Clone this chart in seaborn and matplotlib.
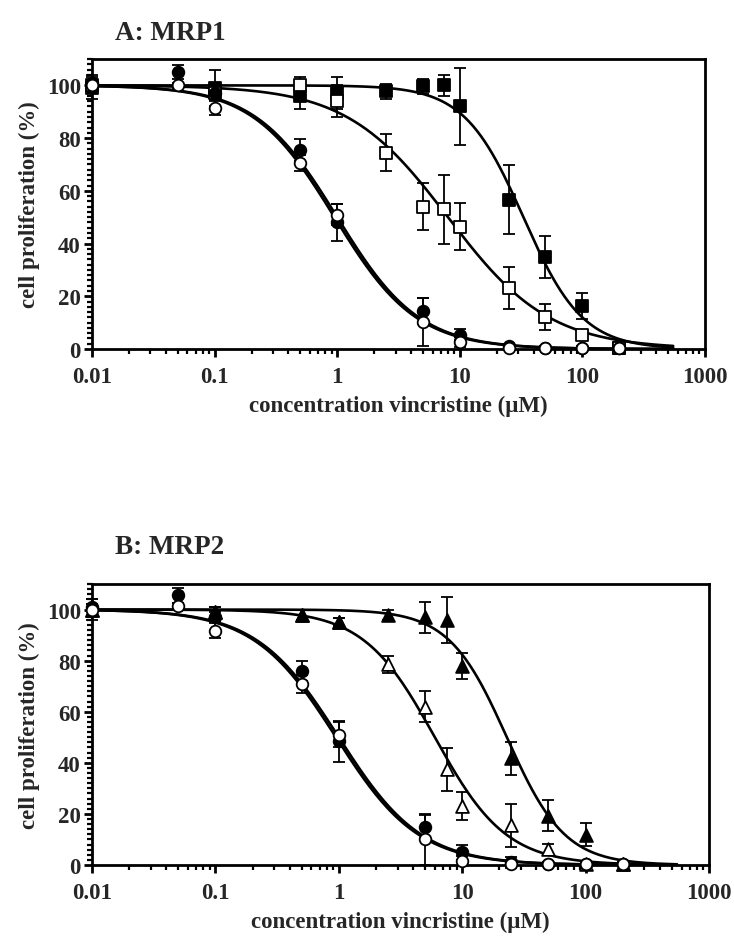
import numpy as np
import pandas as pd
import matplotlib
matplotlib.use("Agg")
import matplotlib.pyplot as plt
import seaborn as sns
from matplotlib.ticker import MultipleLocator, LogLocator, NullFormatter

sns.set_style("ticks")
plt.rcParams['font.family'] = ['Liberation Serif', 'DejaVu Serif']
plt.rcParams['font.weight'] = 'bold'
plt.rcParams['mathtext.default'] = 'regular'

# ---------------- data ----------------
conc_circ = [0.01, 0.05, 0.1, 0.5, 1, 5, 10, 25, 50, 100, 200]
conc_sq = [0.01, 0.1, 0.5, 1, 2.5, 5, 7.5, 10, 25, 50, 100, 200]
conc_tri = [0.01, 0.1, 0.5, 1, 2.5, 5, 7.5, 10, 25, 50, 100, 200]

# Panel A: MRP1
a_fc_y = [101, 105, 97, 75.5, 48, 14.5, 5.5, 1, 0.5, 0.5, 0.5]
a_fc_e = [3, 2.7, 2, 4, 7, 5, 2, 1, 0.5, 0.5, 0.5]
a_oc_y = [100, 100, 91.6, 70.7, 51, 10.3, 2.7, 0.5, 0.5, 0.5, 0.5]
a_oc_e = [2, 1, 3, 3, 4, 9, 2, 1, 0.5, 0.5, 0.5]
a_fs_y = [99, 99, 96, 97, 97.7, 99.6, 100, 92, 56.7, 35, 16.3, 0.5]
a_fs_e = [4, 7, 5, 6, 3, 3, 4, 14.5, 13, 8, 5, 0.5]
a_os_y = [100, 97, 100, 94, 74.5, 54, 53, 46.4, 23, 12.2, 5.3, 0.5]
a_os_e = [2, 3, 3, 6, 7, 9, 13, 9, 8, 5, 1, 0.5]

# Panel B: MRP2
b_fc_y = [101, 105.5, 97, 76, 48.5, 15, 5, 1, 0.5, 0.5, 0.5]
b_fc_e = [3, 3, 2, 4, 8, 4.5, 3, 2, 0.5, 0.5, 0.5]
b_oc_y = [100, 101.5, 91.7, 71, 51, 10, 1.6, 0.5, 0.5, 0.5, 0.5]
b_oc_e = [2, 1, 3, 3.5, 5, 10, 2, 1, 0.5, 0.5, 0.5]
b_ft_y = [100, 99, 98, 95, 98, 97, 96, 78, 41.7, 19.3, 11.8, 0.5]
b_ft_e = [4, 2, 2, 1.5, 2, 6, 9, 5, 6.5, 6, 4.5, 0.5]
b_ot_y = [100, 99, 98, 95, 78.5, 62, 37.4, 23, 15.5, 6.3, 0.5, 0.5]
b_ot_e = [2, 2, 2, 1.5, 3.5, 6, 8.5, 5.5, 8.5, 2, 0.5, 0.5]

# fitted sigmoid curves: IC50 (µM) and Hill slope
a_ic50 = {'fc': 1.0, 'oc': 0.95, 'fs': 33.0, 'os': 8.0}
a_hill = {'fc': 1.3, 'oc': 1.3, 'fs': 1.8, 'os': 1.05}
b_ic50 = {'fc': 1.0, 'oc': 0.95, 'ft': 23.0, 'ot': 6.0}
b_hill = {'fc': 1.3, 'oc': 1.3, 'ft': 1.85, 'ot': 1.5}
curve_range = (0.01, 550)

xticks = [0.01, 0.1, 1, 10, 100, 1000]
xticklabels = ['0.01', '0.1', '1', '10', '100', '1000']
yticks = [0, 20, 40, 60, 80, 100]

FS = 16.5

fig = plt.figure(figsize=(7.34, 9.53), dpi=100)
axA = fig.add_axes([92/734, 1-350/953, (705-92)/734, (350-60)/953])
axB = fig.add_axes([92/734, 1-866/953, (709-92)/734, (866-585)/953])


def curve(ax, ic50, h):
    xs = np.logspace(np.log10(curve_range[0]), np.log10(curve_range[1]), 300)
    ys = 100.0 / (1.0 + (xs / ic50) ** h)
    sns.lineplot(x=xs, y=ys, ax=ax, color='black', lw=1.9, zorder=2,
                 estimator=None, sort=False)


def series(ax, x, y, e, marker, filled, size):
    eb = ax.errorbar(x, y, yerr=e, fmt='none', ecolor='black', elinewidth=1.3,
                     capsize=4, capthick=1.3, zorder=5)
    for art in eb.lines[1] + eb.lines[2]:
        art.set_clip_on(False)
    before = len(ax.collections)
    sns.scatterplot(x=x, y=y, ax=ax, marker=marker, s=size,
                    color='black' if filled else 'white',
                    edgecolor='black', linewidth=1.3, zorder=6)
    for coll in ax.collections[before:]:
        coll.set_clip_on(False)


def style(ax):
    ax.set_xscale('log')
    ax.set_xlim(0.01, 1000)
    ax.set_ylim(0, 110)
    ax.set_xticks(xticks)
    ax.set_xticklabels(xticklabels)
    ax.xaxis.set_minor_locator(LogLocator(base=10, subs=np.arange(2, 10)))
    ax.xaxis.set_minor_formatter(NullFormatter())
    ax.set_yticks(yticks)
    ax.yaxis.set_minor_locator(MultipleLocator(2))
    for s in ax.spines.values():
        s.set_linewidth(2.0)
        s.set_color('black')
        s.set_visible(True)
        s.set_zorder(4)
    ax.tick_params(axis='both', which='major', direction='out', length=6,
                   width=2, labelsize=FS, pad=2, color='black')
    ax.tick_params(axis='both', which='minor', direction='out', length=3.5,
                   width=1.6, color='black')
    ax.tick_params(axis='x', which='major', pad=6)
    for lab in ax.get_xticklabels() + ax.get_yticklabels():
        lab.set_fontweight('bold')
    ax.set_xlabel('concentration vincristine (µM)', fontsize=FS,
                  fontweight='bold', labelpad=6)
    ax.set_ylabel('cell proliferation (%)', fontsize=FS, fontweight='bold',
                  labelpad=5)
    ax.set_facecolor('white')
    ax.grid(False)


# Panel A
for k in ['fc', 'oc', 'fs', 'os']:
    curve(axA, a_ic50[k], a_hill[k])
series(axA, conc_sq, a_fs_y, a_fs_e, 's', True, 70)
series(axA, conc_sq, a_os_y, a_os_e, 's', False, 70)
series(axA, conc_circ, a_fc_y, a_fc_e, 'o', True, 70)
series(axA, conc_circ, a_oc_y, a_oc_e, 'o', False, 70)
style(axA)

# Panel B
for k in ['fc', 'oc', 'ft', 'ot']:
    curve(axB, b_ic50[k], b_hill[k])
series(axB, conc_tri, b_ot_y, b_ot_e, '^', False, 85)
series(axB, conc_tri, b_ft_y, b_ft_e, '^', True, 85)
series(axB, conc_circ, b_fc_y, b_fc_e, 'o', True, 70)
series(axB, conc_circ, b_oc_y, b_oc_e, 'o', False, 70)
style(axB)

fig.text(115/734, 1-33/953, 'A: MRP1', fontsize=19.5, fontweight='bold',
         ha='left', va='center')
fig.text(115/734, 1-547/953, 'B: MRP2', fontsize=19.5, fontweight='bold',
         ha='left', va='center')

fig.savefig('out.png', dpi=100, facecolor='white')
